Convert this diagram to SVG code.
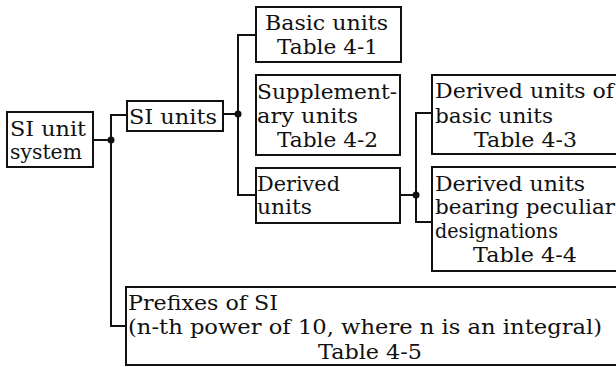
<svg xmlns="http://www.w3.org/2000/svg" width="616" height="367" viewBox="0 0 616 367">
<style>
.box{fill:#fff;stroke:#111;stroke-width:2}
.ln{fill:none;stroke:#111;stroke-width:2}
.dot{fill:#111}
text{font-family:"DejaVu Serif","Liberation Serif",serif;font-size:21px;fill:#111}
</style>
<rect width="616" height="367" fill="#fff"/>
<g id="connectors">
<polyline class="ln" points="93,140 111,140"/>
<polyline class="ln" points="127,115 111,115 111,326 126,326"/>
<circle class="dot" cx="111" cy="140" r="3.5"/>
<polyline class="ln" points="223,114 238,114"/>
<polyline class="ln" points="256,35 238,35 238,195 256,195"/>
<circle class="dot" cx="238" cy="114" r="3.5"/>
<polyline class="ln" points="400,195 416,195"/>
<polyline class="ln" points="432,113 416,113 416,222 432,222"/>
<circle class="dot" cx="416" cy="195" r="3.5"/>
</g>
<g id="n_system"><rect class="box" x="7" y="112" width="86" height="55"/><text x="10" y="136" textLength="76" lengthAdjust="spacingAndGlyphs">SI unit</text><text x="10" y="159" textLength="72" lengthAdjust="spacingAndGlyphs">system</text></g>
<g id="n_si"><rect class="box" x="127" y="101" width="96" height="30"/><text x="129" y="124" textLength="88" lengthAdjust="spacingAndGlyphs">SI units</text></g>
<g id="n_basic"><rect class="box" x="256" y="7" width="145" height="55"/><text x="265" y="30" textLength="123" lengthAdjust="spacingAndGlyphs">Basic units</text><text x="277" y="54" textLength="101" lengthAdjust="spacingAndGlyphs">Table 4-1</text></g>
<g id="n_supp"><rect class="box" x="256" y="75" width="144" height="80"/><text x="257" y="99" textLength="140" lengthAdjust="spacingAndGlyphs">Supplement-</text><text x="257" y="123" textLength="101" lengthAdjust="spacingAndGlyphs">ary units</text><text x="277" y="147" textLength="101" lengthAdjust="spacingAndGlyphs">Table 4-2</text></g>
<g id="n_derived"><rect class="box" x="256" y="168" width="144" height="55"/><text x="257" y="191" textLength="83" lengthAdjust="spacingAndGlyphs">Derived</text><text x="257" y="214" textLength="55" lengthAdjust="spacingAndGlyphs">units</text></g>
<g id="n_t43"><rect class="box" x="432" y="75" width="190" height="79"/><text x="435" y="98" textLength="179" lengthAdjust="spacingAndGlyphs">Derived units of</text><text x="435" y="123" textLength="118" lengthAdjust="spacingAndGlyphs">basic units</text><text x="474" y="147" textLength="103" lengthAdjust="spacingAndGlyphs">Table 4-3</text></g>
<g id="n_t44"><rect class="box" x="432" y="167" width="190" height="104"/><text x="435" y="191" textLength="150" lengthAdjust="spacingAndGlyphs">Derived units</text><text x="435" y="214" textLength="180" lengthAdjust="spacingAndGlyphs">bearing peculiar</text><text x="435" y="238" textLength="123" lengthAdjust="spacingAndGlyphs">designations</text><text x="473" y="262" textLength="104" lengthAdjust="spacingAndGlyphs">Table 4-4</text></g>
<g id="n_prefix"><rect class="box" x="126" y="287" width="496" height="78"/><text x="128" y="310" textLength="150" lengthAdjust="spacingAndGlyphs">Prefixes of SI</text><text x="128" y="334" textLength="474" lengthAdjust="spacingAndGlyphs">(n-th power of 10, where n is an integral)</text><text x="318" y="359" textLength="104" lengthAdjust="spacingAndGlyphs">Table 4-5</text></g>
</svg>
